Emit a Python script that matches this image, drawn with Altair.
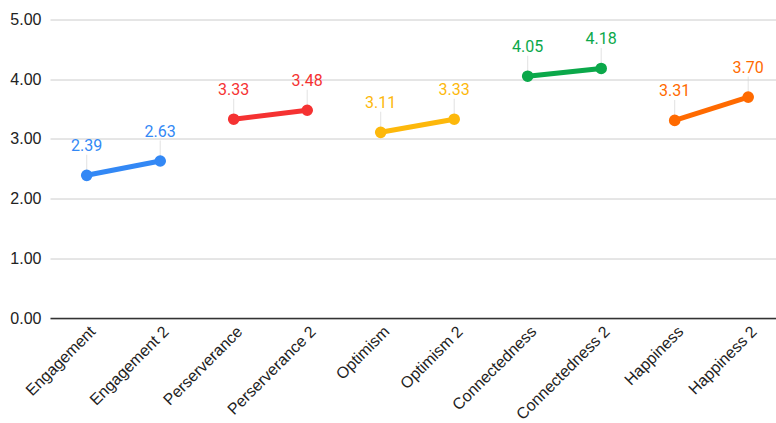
import altair as alt
import pandas as pd

categories = ["Engagement", "Engagement 2", "Perserverance", "Perserverance 2",
              "Optimism", "Optimism 2", "Connectedness", "Connectedness 2",
              "Happiness", "Happiness 2"]
values = [2.39, 2.63, 3.33, 3.48, 3.11, 3.33, 4.05, 4.18, 3.31, 3.70]
groups = ["Engagement", "Engagement", "Perserverance", "Perserverance",
          "Optimism", "Optimism", "Connectedness", "Connectedness",
          "Happiness", "Happiness"]
group_names = ["Engagement", "Perserverance", "Optimism", "Connectedness", "Happiness"]
group_colors = ["#3388F5", "#F53232", "#FDB80B", "#0BA84A", "#FF6A00"]

df = pd.DataFrame({"cat": categories, "value": values, "group": groups})

x = alt.X("cat:N", sort=categories, title=None,
          scale=alt.Scale(type="point", padding=0.439, align=0.569),
          axis=alt.Axis(labelAngle=-45, labelAlign="right", labelBaseline="top",
                        labelPadding=5, ticks=False, domainColor="#333333",
                        domainWidth=1.5,
                        labelFont="Liberation Sans", labelFontSize=16,
                        labelColor="#222222", grid=False, labelOverlap=False))
y = alt.Y("value:Q", title=None,
          scale=alt.Scale(domain=[0, 5], nice=False),
          axis=alt.Axis(values=[0, 1, 2, 3, 4, 5], format=".2f", ticks=False,
                        domain=False, gridColor="#CCCCCC", labelPadding=9,
                        labelFont="Liberation Sans", labelFontSize=16,
                        labelColor="#222222"))
color = alt.Color("group:N", scale=alt.Scale(domain=group_names, range=group_colors),
                  legend=None)

base = alt.Chart(df).encode(x=x, y=y)

lines = base.mark_line(strokeWidth=5).encode(color=color, detail="group:N")
points = base.mark_circle(size=135, opacity=1).encode(color=color)
leaders = base.mark_tick(orient="vertical", size=17, thickness=1, yOffset=-12,
                         color="#D6D6D6")
labels = base.mark_text(font="Roboto", fontSize=16, baseline="alphabetic",
                        dy=-24).encode(text=alt.Text("value:Q", format=".2f"),
                                       color=color)

chart = alt.layer(leaders, lines, points, labels).properties(
    width=726, height=298.5,
    padding={"left": 50, "top": 19.5, "right": 0, "bottom": 104.5},
    autosize=alt.AutoSizeParams(type="none"),
).configure_view(stroke=None)

chart.save("out.html", embed_options={"renderer": "svg", "actions": False})
